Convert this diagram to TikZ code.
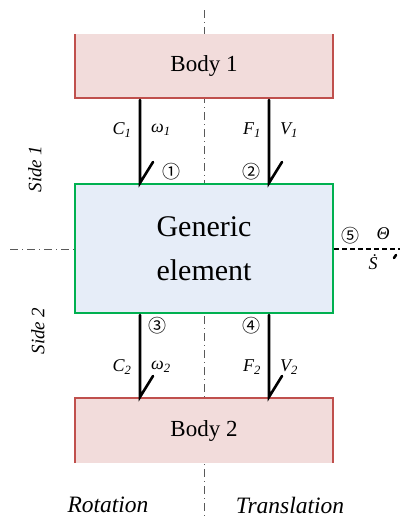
\documentclass[tikz,border=0pt]{standalone}
\usepackage{fontspec}
\setmainfont{Liberation Serif}
\newfontfamily\circfont{Noto Sans CJK SC}
\begin{document}
\begin{tikzpicture}[x=1pt,y=-1pt,
  bodybox/.style={fill=bodyfill,draw=none},
  bodyedge/.style={draw=bodyline,line width=1.6pt},
  genbox/.style={fill=genfill,draw=genline,line width=1.6pt},
  axisline/.style={draw=black!65,line width=0.8pt,dash pattern=on 8pt off 4pt on 1pt off 4pt},
  flow/.style={line width=2.6pt,line cap=round},
  lbl/.style={font=\fontsize{18}{20}\selectfont\itshape,inner sep=0pt},
  circ/.style={font=\circfont\fontsize{18}{20}\selectfont,inner sep=0pt},
  sidelbl/.style={font=\fontsize{19}{22}\selectfont\itshape,inner sep=0pt,rotate=90},
  bottomlbl/.style={font=\fontsize{23.5}{26}\selectfont\itshape,inner sep=0pt},
  bodytext/.style={font=\fontsize{23}{26}\selectfont,inner sep=0pt}]
\definecolor{bodyfill}{HTML}{F2DCDB}
\definecolor{bodyline}{HTML}{C0504D}
\definecolor{genfill}{HTML}{E6EDF8}
\definecolor{genline}{HTML}{00B050}
\useasboundingbox (0,0) rectangle (400,520);
% axes
\coordinate (vtop) at (204,10);
\coordinate (vbot) at (204,520);
\coordinate (hl) at (10,249);
\draw[axisline] (vtop) -- (vbot);
\draw[axisline] (hl) -- (75,249);
% body 1
\fill[bodybox] (75,34) rectangle (333,98);
\draw[bodyedge] (75,34) -- (75,98) -- (333,98) -- (333,34);
\node[bodytext] (b1) at (204,66) {Body 1};
% body 2
\fill[bodybox] (75,398) rectangle (333,463);
\draw[bodyedge] (75,463) -- (75,398) -- (333,398) -- (333,463);
\node[bodytext] (b2) at (204,431) {Body 2};
% generic element
\node[genbox,minimum width=258pt,minimum height=129pt,inner sep=0pt,
  font=\fontsize{30}{44}\selectfont,align=center] (gen) at (204,248.5) {Generic\\element};
% flows top
\coordinate (a1s) at (140,100); \coordinate (a1e) at (140,183);
\coordinate (a2s) at (269,100); \coordinate (a2e) at (269,183);
\draw[flow] (a1s) -- (a1e) -- ++(13,-21);
\draw[flow] (a2s) -- (a2e) -- ++(13,-21);
% flows bottom
\coordinate (a3s) at (140,315); \coordinate (a3e) at (140,397);
\coordinate (a4s) at (269,315); \coordinate (a4e) at (269,397);
\draw[flow] (a3s) -- (a3e) -- ++(13,-21);
\draw[flow] (a4s) -- (a4e) -- ++(13,-21);
% port 5
\coordinate (p5s) at (334,249); \coordinate (p5e) at (400,249);
\draw[line width=2.6pt,dash pattern=on 5pt off 3pt] (p5s) -- (p5e);
\draw[line width=2.6pt,line cap=round] (394,258) -- (396,255);
% labels
\node[lbl] (c1) at (122,130) {C\textsubscript{1}};
\node[lbl] (w1) at (161,130) {ω\textsubscript{1}};
\node[lbl] (f1) at (252,130) {F\textsubscript{1}};
\node[lbl] (v1) at (289,130) {V\textsubscript{1}};
\node[lbl] (c2) at (122,367) {C\textsubscript{2}};
\node[lbl] (w2) at (161,367) {ω\textsubscript{2}};
\node[lbl] (f2) at (252,367) {F\textsubscript{2}};
\node[lbl] (v2) at (289,367) {V\textsubscript{2}};
\node[circ] (n1) at (171,172) {①};
\node[circ] (n2) at (251,172) {②};
\node[circ] (n3) at (157,326) {③};
\node[circ] (n4) at (251,326) {④};
\node[circ] (n5) at (350,236) {⑤};
\node[lbl] (th) at (383,234) {Θ};
\node[lbl] (sd) at (373,262) {Ṡ};
\node[sidelbl] (s1) at (35,169) {Side 1};
\node[sidelbl] (s2) at (38,331) {Side 2};
\node[bottomlbl] (rot) at (108,505) {Rotation};
\node[bottomlbl] (tr) at (290,505) {Translation};
\end{tikzpicture}
\end{document}
